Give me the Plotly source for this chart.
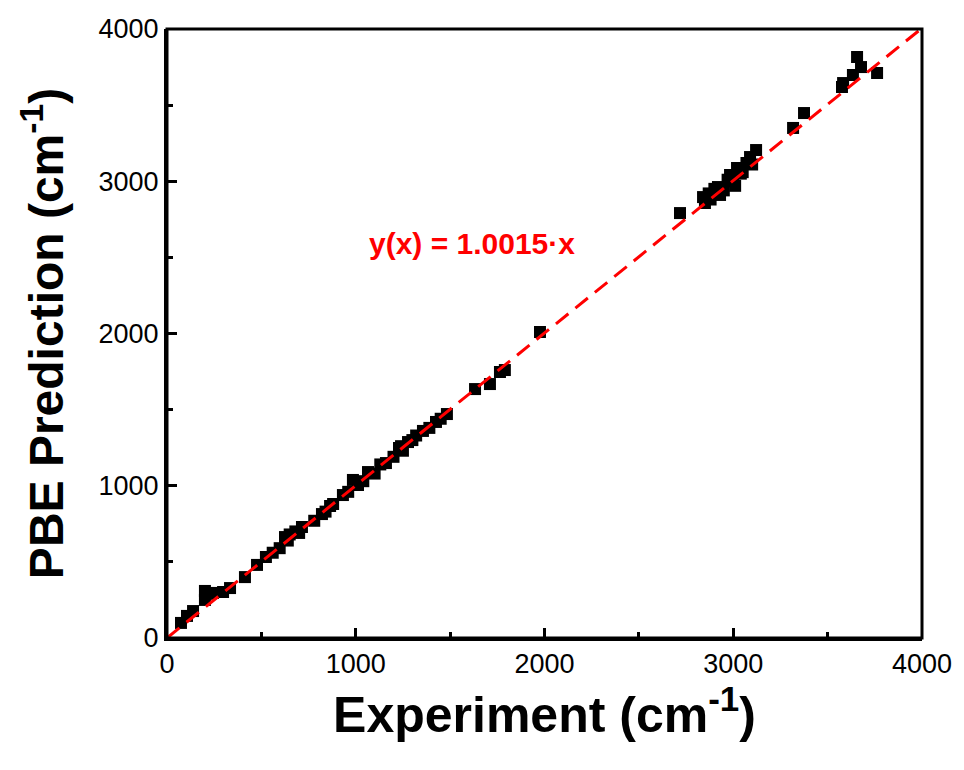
import plotly.graph_objects as go

# Experimental vs PBE-predicted frequencies (cm^-1)
experiment = [74, 106, 138, 201, 201, 220, 244, 297, 334, 413, 477, 524, 560, 597, 625, 640,
              650, 680, 700, 715, 780, 821, 840, 864, 880, 932, 960, 985, 1012, 1040, 1065,
              1100, 1130, 1160, 1200, 1229, 1240, 1250, 1277, 1300, 1320, 1356, 1390,
              1425, 1450, 1483, 1632, 1711, 1764, 1790, 1976, 2718, 2840, 2850, 2870, 2880,
              2900, 2919, 2930, 2950, 2970, 2983, 3000, 3010, 3020, 3040, 3050, 3070, 3089,
              3100, 3121, 3317, 3375, 3576, 3582, 3634, 3656, 3677, 3762]
pbe = [99, 145, 177, 309, 250, 290, 296, 302, 328, 400, 480, 532, 560, 590, 663, 640,
       680, 700, 690, 729, 770, 814, 830, 867, 880, 939, 960, 1038, 1005, 1030, 1090,
       1080, 1140, 1149, 1190, 1248, 1260, 1230, 1287, 1300, 1330, 1360, 1380,
       1419, 1440, 1471, 1635, 1668, 1747, 1760, 2010, 2791, 2896, 2857, 2920, 2880,
       2950, 2962, 2910, 2940, 3010, 3041, 3000, 2970, 3087, 3050, 3060, 3120, 3159,
       3110, 3205, 3350, 3448, 3619, 3645, 3698, 3816, 3750, 3711]

slope = 1.0015
fit_x = [0, 4000]
fit_y = [slope * v for v in fit_x]

tick_vals = [0, 1000, 2000, 3000, 4000]
tick_text = ["0", "1000", "2000", "3000", "4000"]

fig = go.Figure()
fig.add_trace(go.Scatter(x=experiment, y=pbe, mode="markers",
                         marker=dict(symbol="square", size=12, color="black",
                                     line=dict(width=0)),
                         showlegend=False))
fig.add_trace(go.Scatter(x=fit_x, y=fit_y, mode="lines",
                         line=dict(color="#ff0000", width=3, dash="16px,9px"),
                         showlegend=False))

fig.add_annotation(x=1060, y=2588, xref="x", yref="y", xanchor="left", yanchor="middle",
                   text="<b>y(x) = 1.0015·x</b>", showarrow=False,
                   font=dict(family="Liberation Sans, Arial, sans-serif", size=30, color="#ff0000"))

tickfont = dict(family="Liberation Sans, Arial, sans-serif", size=27, color="black")
titlefont = dict(family="Liberation Sans, Arial, sans-serif", size=50, color="black")

axis_common = dict(
    range=[0, 4000], tickvals=tick_vals, ticktext=tick_text,
    ticks="inside", ticklen=10, tickwidth=3, tickcolor="black",
    minor=dict(ticks="inside", ticklen=6, tickwidth=3, tickcolor="black", dtick=500),
    showline=True, linewidth=3, linecolor="black", mirror=False,
    showgrid=False, zeroline=False, tickfont=tickfont,
)

fig.update_xaxes(**axis_common,
                 title=dict(text="<b>Experiment (cm<sup>-1</sup>)</b>", font=titlefont, standoff=14))
fig.update_yaxes(**axis_common,
                 title=dict(text="<b>PBE Prediction (cm<sup>-1</sup>)</b>",
                            font=dict(family="Liberation Sans, Arial, sans-serif", size=48, color="black"),
                            standoff=20))

# frame top and right edges (no ticks there)
fig.add_shape(type="rect", xref="paper", yref="paper", x0=0, y0=0, x1=1, y1=1,
              line=dict(color="black", width=3), layer="above")

fig.update_layout(
    width=964, height=770,
    margin=dict(l=167, r=42, t=29, b=132),
    plot_bgcolor="white", paper_bgcolor="white",
)

fig.write_html("out.html")
